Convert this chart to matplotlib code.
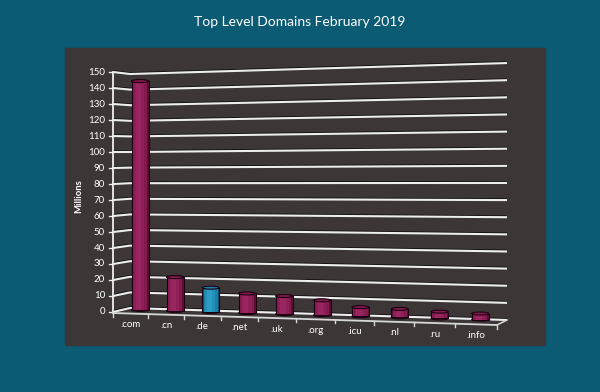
import matplotlib
matplotlib.use("Agg")
import matplotlib.pyplot as plt
from matplotlib.patches import Rectangle, Ellipse
import numpy as np

plt.rcParams['font.family'] = ['Lato', 'DejaVu Sans']

# ---- data ----
title = "Top Level Domains February 2019"
y_label = "Millions"
categories = [".com", ".cn", ".de", ".net", ".uk", ".org", ".icu", ".nl", ".ru", ".info"]
values = [144, 22, 16, 13, 12, 10, 6.5, 6, 5, 4.5]
highlight = [".de"]
y_ticks = list(range(0, 151, 10))

# ---- style ----
BG = "#0c5b75"
PANEL = "#3c3637"
MAG = ("#5c0e34", "#821a4e", "#8f1f57", "#9a2660")
BLU = ("#0b5474", "#1a80a6", "#2290b8", "#2b9dc4")
GRID = "#eeeeee"

# perspective geometry (pixel space)
def bar_x(c):
    return 140 + 35 * c + 0.35 * c * (c - 1)

def bar_base(c):
    return 311 + 1.08 * c

def bar_scale(c):
    return 1.6 + 0.0122 * c

def front_tick(k):
    return 113 + 34.8 * k + 0.36 * k * k

def front_y(x):
    return 313 + (x - 113) * 12 / 384

def axis_y(v):
    return 312 - 1.6 * v

def wall_left(v):
    return 308 - 1.56 * v

def wall_right(v):
    return 320 - 1.713 * v

W, H = 600, 392
fig = plt.figure(figsize=(W / 100, H / 100), dpi=100, facecolor=BG)
ax = fig.add_axes([0, 0, 1, 1])
ax.set_xlim(0, W)
ax.set_ylim(H, 0)
ax.axis("off")

ax.add_patch(Rectangle((65, 48), 480, 297, color=PANEL, zorder=0))

fig.text(0.5, 1 - 22 / H, title, ha="center", va="center", color="white", fontsize=10)
ax.text(79, 196, y_label, rotation=90, ha="center", va="center", color="white",
        fontsize=6.8, fontweight="bold")

# gridlines: side wall + back wall
for v in y_ticks:
    xs = [113, 130, 507]
    ys = [axis_y(v), wall_left(v), wall_right(v)]
    ax.plot(xs, [y - 1.3 for y in ys], color="#141012", lw=0.9, zorder=1, solid_capstyle="butt")
    ax.plot(xs, ys, color=GRID, lw=1.5, zorder=2, solid_capstyle="butt")
    ax.plot([109, 113], [axis_y(v), axis_y(v)], color=GRID, lw=1, zorder=2)
    ax.text(105, axis_y(v), str(v), ha="right", va="center", color="white", fontsize=7)

# axis line
ax.plot([113, 113], [axis_y(150), axis_y(0) + 1], color=GRID, lw=1.3, zorder=3)

# floor
nx = len(categories)
x_end = front_tick(nx)
ax.plot([113, x_end], [front_y(113), front_y(x_end)], color="#d8d8d8", lw=1.3, zorder=3)
ax.plot([x_end, 507], [front_y(x_end), wall_right(0)], color="#d8d8d8", lw=1.1, zorder=3)
for k in range(nx + 1):
    xt = front_tick(k)
    ax.plot([xt, xt], [front_y(xt), front_y(xt) + 3.5], color="#d8d8d8", lw=1, zorder=3)

# bars
bw = 17
for c, (cat, val) in enumerate(zip(categories, values)):
    dark, mid, light, hi = BLU if cat in highlight else MAG
    xc = bar_x(c)
    base = bar_base(c)
    h = val * bar_scale(c)
    top = base - h + 0.5
    bottom = base - 1.2
    ax.add_patch(Ellipse((xc, bottom), bw, 3, facecolor=dark, edgecolor="#1c0010", lw=0.8, zorder=4))
    ax.bar(xc, bottom - top, bottom=top, width=bw, color=dark, edgecolor="#1c0010", lw=0.8, zorder=5)
    for i, (wf, col) in enumerate([(0.84, mid), (0.6, light), (0.32, hi)]):
        ax.bar(xc - 0.7 * i, bottom - top, bottom=top, width=bw * wf, color=col, lw=0, zorder=6 + i)
    ax.add_patch(Ellipse((xc, top), bw, 3, facecolor=mid, edgecolor="#1c0010", lw=0.8, zorder=10))
    lx = (front_tick(c) + front_tick(c + 1)) / 2
    ax.text(lx, front_y(lx) + 11, cat, ha="center", va="center", color="white", fontsize=7)

fig.savefig("out.png", dpi=100, facecolor=BG)
